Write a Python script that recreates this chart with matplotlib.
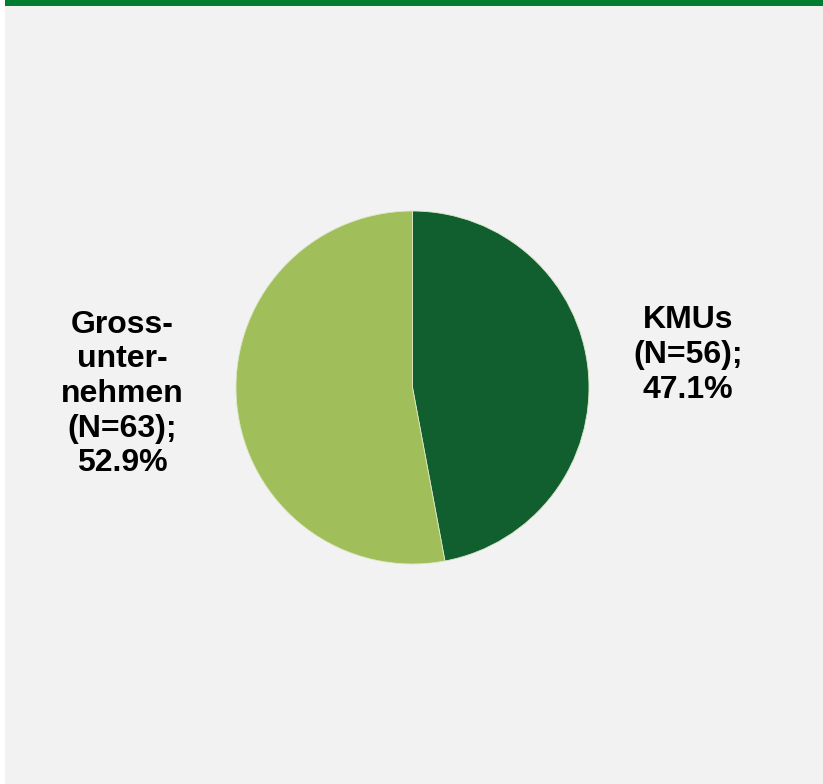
import matplotlib.pyplot as plt
from matplotlib.patches import Rectangle

labels = ["KMUs\n(N=56);\n47.1%", "Gross-\nunter-\nnehmen\n(N=63);\n52.9%"]
counts = [56, 63]
colors = ["#115E2F", "#A0BF5A"]

plt.rcParams["font.family"] = ["Liberation Sans", "DejaVu Sans"]

fig = plt.figure(figsize=(8.23, 7.84), dpi=100)
fig.patch.set_facecolor("white")
fig.patches.append(Rectangle((5 / 823, 0), 1, 1, transform=fig.transFigure,
                             facecolor="#F2F2F2", edgecolor="none", zorder=-2))
fig.patches.append(Rectangle((5 / 823, 1 - 6 / 784), 1, 6 / 784, transform=fig.transFigure,
                             facecolor="#007E2F", edgecolor="none", zorder=-1))

# pie: center (412.5, 387.5) px, radius 176.5 px
r = 176.5
ax = fig.add_axes([(412.5 - r) / 823, (784 - 387.5 - r) / 784, 2 * r / 823, 2 * r / 784])
ax.pie(counts, colors=colors, startangle=90, counterclock=False,
       wedgeprops=dict(edgecolor="#DDE8C8", linewidth=0.6))
ax.set_aspect("auto")
ax.set_xlim(-1, 1)
ax.set_ylim(-1, 1)

fig.text(688 / 823, 1 - 355 / 784, labels[0], ha="center", va="center",
         fontsize=23, fontweight="bold", linespacing=1.2)
fig.text(122 / 823, 1 - 394 / 784, labels[1], ha="center", va="center",
         fontsize=23, fontweight="bold", linespacing=1.2)

fig.savefig("out.png", dpi=100, facecolor=fig.get_facecolor())
